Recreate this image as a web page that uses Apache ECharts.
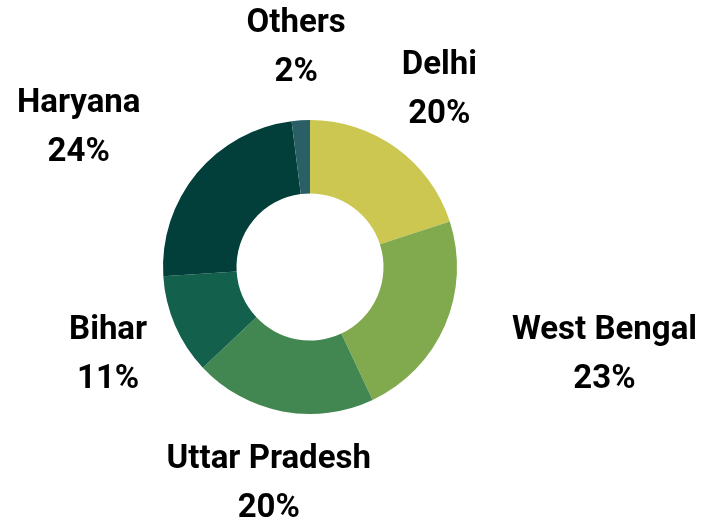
<!DOCTYPE html>
<html>
<head>
<meta charset="utf-8">
<script src="https://cdn.jsdelivr.net/npm/echarts@6/dist/echarts.min.js"></script>
<style>
  html, body { margin: 0; padding: 0; background: #fff; }
  #state_chart { width: 708px; height: 524px; }
</style>
</head>
<body>
<div id="state_chart"></div>
<script>
// share of total, %
var states = ["Delhi", "West Bengal", "Uttar Pradesh", "Bihar", "Haryana", "Others"];
var shares = [20, 23, 20, 11, 24, 2];
var colors = ["#CBC751", "#81AA4E", "#428751", "#13614C", "#023F3A", "#2A5F66"];

var CX = 310, CY = 267;
var R_IN = 73.5, R_OUT = 147;
var LABEL_R = R_OUT + 73;

var total = shares.reduce(function (a, b) { return a + b; }, 0);

function clamp(v, lo, hi) {
  return Math.max(lo, Math.min(hi, v));
}

// label centred on the ray through the slice middle; if that puts it too
// close to the ring, hang it off the ray point on the outer side instead
function placeLabel(params) {
  var i = params.dataIndex;
  var before = 0;
  for (var j = 0; j < i; j++) before += shares[j];
  var mid = (before + shares[i] / 2) / total * Math.PI * 2;
  var ux = Math.sin(mid), uy = -Math.cos(mid);
  var px = CX + ux * LABEL_R, py = CY + uy * LABEL_R;
  var w = params.labelRect.width, h = params.labelRect.height * 0.8;
  var nx = clamp(CX, px - w / 2, px + w / 2);
  var ny = clamp(CY, py - h / 2, py + h / 2);
  var x = px;
  if (Math.hypot(nx - CX, ny - CY) < R_OUT + 10) {
    x = px + (ux > 0 ? w / 2 : -w / 2);
  }
  return { x: x, y: py + 1, align: "center", verticalAlign: "middle" };
}

var state_chart = echarts.init(document.getElementById("state_chart"));
var option = {
  animation: false,
  series: [
    {
      type: "pie",
      center: [CX, CY],
      radius: [R_IN, R_OUT],
      startAngle: 90,
      clockwise: true,
      avoidLabelOverlap: false,
      itemStyle: { borderWidth: 0 },
      label: {
        show: true,
        position: "outside",
        formatter: "{b}\n{c}%",
        color: "#000",
        fontFamily: "Roboto",
        fontWeight: "bold",
        fontSize: 33,
        lineHeight: 49,
      },
      labelLine: { show: false },
      labelLayout: placeLabel,
      data: states.map(function (name, i) {
        return { name: name, value: shares[i], itemStyle: { color: colors[i] } };
      }),
    },
  ],
};
state_chart.setOption(option);
</script>
</body>
</html>
